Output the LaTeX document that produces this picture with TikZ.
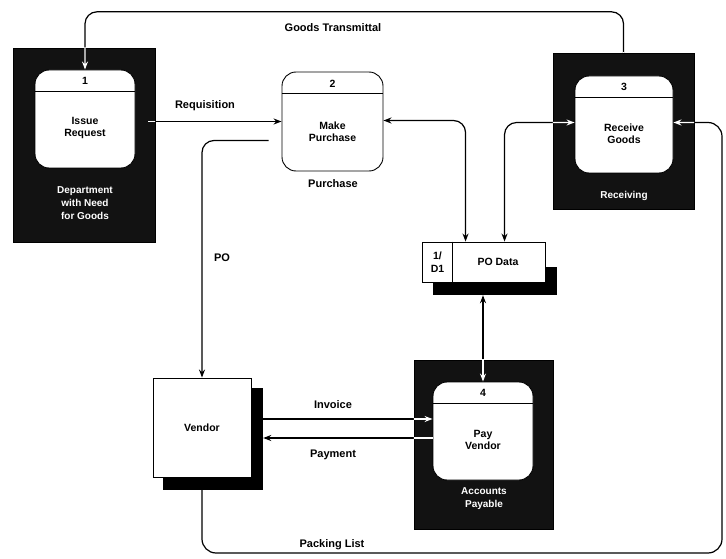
\documentclass[tikz,border=0pt]{standalone}
\usepackage{fontspec}
\setmainfont{Liberation Sans}
\usetikzlibrary{arrows.meta,calc}
\colorlet{fcol}{black}
\tikzset{
 darkbox/.style={rectangle, fill=black!93, draw=black, inner sep=0pt},
 proc/.style={rectangle, rounded corners=14pt, fill=white, draw=black, line width=0.9pt, inner sep=0pt},
 ent/.style={rectangle, fill=white, draw=black, line width=0.9pt, inner sep=0pt},
 shade/.style={rectangle, fill=black, inner sep=0pt},
 divider/.style={draw=black, line width=0.9pt},
 flow/.style={draw=fcol, line width=1.2pt, -{Stealth[length=8pt,width=6pt]}},
 flowtwo/.style={draw=fcol, line width=1.2pt, {Stealth[length=8pt,width=6pt]}-{Stealth[length=8pt,width=6pt]}},
 lbl/.style={font=\bfseries\fontsize{11}{13}\selectfont, inner sep=1pt},
 ptxt/.style={font=\bfseries\fontsize{10.5}{12.5}\selectfont, align=center, inner sep=0pt},
 wtxt/.style={font=\bfseries\fontsize{10}{13}\selectfont, align=center, text=white, inner sep=0pt},
}
\newcommand{\allflows}{%
 \draw[flow, rounded corners=12pt] (recv.north) -- ++(0,-41) -| (p1.north);
 \draw[flow, shorten <=13pt] (p1.east |- p2.west) -- (p2.west);
 \draw[flow, rounded corners=12pt, shorten <=13pt] ($(p2.west)+(0,19)$) -| (vendor.north);
 \draw[flowtwo, rounded corners=12pt] ($(p2.east)+(0,-1)$) -| ($(store.north west)+(44,0)$);
 \draw[flowtwo, rounded corners=12pt] ($(p3.west)+(0,-2)$) -| ($(store.north west)+(83,0)$);
 \draw[flowtwo] (p4.north |- ssh.south) -- (p4.north);
 \draw[flow] ($(vsh.east)+(0,-20)$) -- ($(p4.west)+(0,-12)$);
 \draw[flow] ($(p4.west)+(0,7)$) -- ($(vsh.east)+(0,-1)$);
 \draw[flow, rounded corners=14pt] (vendor.south) |- (plc) |- ($(p3.east)+(0,-2)$);
}
\begin{document}
\begin{tikzpicture}[x=1pt,y=-1pt]
\useasboundingbox (0,0) rectangle (726,559);
% external/location dark boxes
\node[darkbox, minimum width=142pt, minimum height=194pt] (dept) at (84,145) {};
\node[darkbox, minimum width=141pt, minimum height=156pt] (recv) at (623.5,131) {};
\node[darkbox, minimum width=139pt, minimum height=169pt] (ap) at (483.5,444.5) {};
% processes
\node[proc, minimum width=100pt, minimum height=98pt] (p1) at (85,119) {};
\node[proc, minimum width=101pt, minimum height=99pt] (p2) at (332.5,121.5) {};
\node[proc, minimum width=98pt, minimum height=97pt] (p3) at (624,124.5) {};
\node[proc, minimum width=100pt, minimum height=98pt] (p4) at (483,431) {};
\foreach \p in {p1,p2,p3,p4}{
 \draw[divider] ($(\p.north west)+(0,22)$) -- ($(\p.north east)+(0,22)$);
}
\node[ptxt] (n1) at ($(p1.north)+(0,11)$) {1};
\node[ptxt] (n2) at ($(p2.north)+(0,12)$) {2};
\node[ptxt] (n3) at ($(p3.north)+(0,11)$) {3};
\node[ptxt] (n4) at ($(p4.north)+(0,11)$) {4};
\node[ptxt] (t1) at ($(p1.center)+(0,9)$) {Issue\\Request};
\node[ptxt] (t2) at ($(p2.center)+(0,10)$) {Make\\Purchase};
\node[ptxt] (t3) at ($(p3.center)+(0,9)$) {Receive\\Goods};
\node[ptxt] (t4) at ($(p4.center)+(0,9)$) {Pay\\Vendor};
% vendor entity
\node[shade, minimum width=100pt, minimum height=102pt] (vsh) at (213,439) {};
\node[ent, minimum width=98pt, minimum height=99pt] (vendor) at (202,427.5) {};
\node[ptxt] (tv) at (vendor.center) {Vendor};
% data store
\node[shade, minimum width=124pt, minimum height=28pt] (ssh) at (495,281) {};
\node[ent, minimum width=123pt, minimum height=40pt] (store) at (483.5,262) {};
\draw[divider] ($(store.north west)+(31,0)$) -- ($(store.south west)+(31,0)$);
\node[ptxt] (ts1) at (437.5,262) {1/\\D1};
\node[ptxt] (ts2) at (498,262) {PO Data};
% location labels
\node[wtxt] (ldept) at (85,203) {Department\\with Need\\for Goods};
\node[wtxt] (lrecv) at (624,196) {Receiving};
\node[wtxt] (lap) at (484,499) {Accounts\\Payable};
% flow labels
\node[lbl] (lgt) at (333,28) {Goods Transmittal};
\node[lbl] (lreq) at (205,106) {Requisition};
\node[lbl] (lpur) at (333,184) {Purchase};
\node[lbl] (lpo) at (222,258) {PO};
\node[lbl] (linv) at (333,405) {Invoice};
\node[lbl] (lpay) at (333,455) {Payment};
\node[lbl] (lpl) at (332,545) {Packing List};
\coordinate (plc) at (722,553);
% flows
\allflows
\foreach \b in {dept,recv,ap}{
 \begin{scope}
 \clip (\b.south west) rectangle (\b.north east);
 \colorlet{fcol}{white}
 \allflows
 \end{scope}
}
\end{tikzpicture}
\end{document}
